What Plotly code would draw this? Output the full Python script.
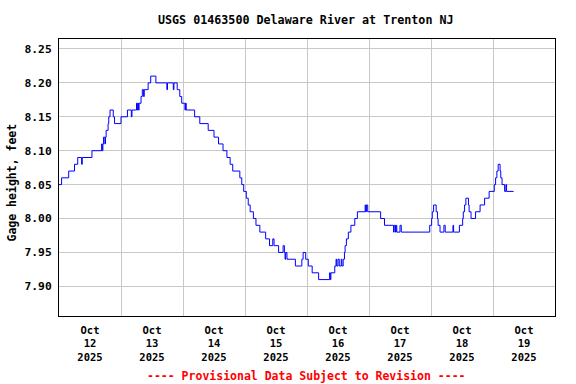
import pandas as pd
import plotly.graph_objects as go

# Change points of the gage-height record (hours after 2025-10-12 00:00, feet)
hours = [0.0, 1.0, 3.75, 6.0, 7.25, 8.75, 9.0, 12.75, 16.5, 16.75, 17.0, 17.25, 17.75, 18.0,
         18.25, 19.0, 19.25, 19.75, 21.0, 21.5, 24.0, 26.5, 28.0, 28.25, 30.0, 30.25, 30.5,
         30.75, 31.0, 31.75, 32.25, 32.75, 33.0, 34.5, 35.5, 37.5, 41.75, 42.0, 44.25, 44.5,
         45.75, 46.75, 47.5, 48.75, 49.0, 49.25, 52.5, 54.5, 57.75, 60.0, 61.75, 63.5, 65.0,
         66.25, 67.25, 70.0, 70.75, 71.5, 72.5, 73.25, 74.0, 75.25, 76.25, 77.75, 80.0, 81.5,
         82.75, 83.25, 85.0, 86.75, 87.25, 87.5, 87.75, 88.25, 91.5, 94.0, 94.5, 95.5, 96.5,
         98.0, 100.5, 104.75, 105.0, 105.25, 106.75, 107.25, 107.5, 108.0, 108.5, 109.25,
         109.5, 110.0, 110.5, 110.75, 111.25, 112.0, 113.0, 114.5, 115.5, 118.5, 118.75,
         119.0, 119.5, 124.5, 126.0, 129.5, 129.75, 130.25, 130.5, 130.75, 132.0, 132.5,
         143.5, 144.25, 144.5, 145.0, 146.0, 146.5, 146.75, 147.5, 149.0, 149.5, 152.5,
         152.75, 155.0, 156.25, 156.5, 157.0, 157.5, 158.5, 158.75, 159.5, 161.25, 163.0,
         164.75, 166.5, 168.5, 169.0, 169.5, 170.0, 170.75, 171.0, 171.5, 172.5, 173.0,
         173.25, 176.0]
gage = [8.05, 8.06, 8.07, 8.08, 8.09, 8.08, 8.09, 8.10, 8.11, 8.10, 8.11, 8.12, 8.11, 8.12,
        8.13, 8.14, 8.15, 8.16, 8.15, 8.14, 8.15, 8.16, 8.15, 8.16, 8.17, 8.16, 8.17,
        8.16, 8.17, 8.18, 8.19, 8.18, 8.19, 8.20, 8.21, 8.20, 8.19, 8.20, 8.19, 8.20,
        8.19, 8.18, 8.17, 8.16, 8.17, 8.16, 8.15, 8.14, 8.13, 8.12, 8.11, 8.10, 8.09,
        8.08, 8.07, 8.06, 8.05, 8.04, 8.03, 8.02, 8.01, 8.00, 7.99, 7.98, 7.97, 7.96,
        7.97, 7.96, 7.95, 7.96, 7.95, 7.94, 7.95, 7.94, 7.93, 7.94, 7.95, 7.94, 7.93,
        7.92, 7.91, 7.92, 7.91, 7.92, 7.93, 7.94, 7.93, 7.94, 7.93, 7.94,
        7.93, 7.94, 7.95, 7.96, 7.97, 7.98, 7.99, 8.00, 8.01, 8.02, 8.01,
        8.02, 8.01, 8.00, 7.99, 7.98, 7.99, 7.98, 7.99, 7.98, 7.99, 7.98,
        7.99, 8.00, 8.01, 8.02, 8.01, 8.00, 7.99, 7.98, 7.99, 7.98, 7.99,
        7.98, 7.99, 8.00, 8.01, 8.02, 8.03, 8.02, 8.01, 8.00, 8.01, 8.02,
        8.03, 8.04, 8.05, 8.06, 8.07, 8.08, 8.07, 8.06, 8.05, 8.04, 8.05,
        8.04, 8.04]

start = "2025-10-12 00:00"
x_range = ["2025-10-12 00:00", "2025-10-20 00:00"]
y_range = [7.8563, 8.2647]
y_ticks = [7.90, 7.95, 8.00, 8.05, 8.10, 8.15, 8.20, 8.25]
label_days = ["2025-10-12 12:00", "2025-10-13 12:00", "2025-10-14 12:00", "2025-10-15 12:00",
              "2025-10-16 12:00", "2025-10-17 12:00", "2025-10-18 12:00", "2025-10-19 12:00"]
label_text = ["Oct<br>12<br>2025", "Oct<br>13<br>2025", "Oct<br>14<br>2025", "Oct<br>15<br>2025",
              "Oct<br>16<br>2025", "Oct<br>17<br>2025", "Oct<br>18<br>2025", "Oct<br>19<br>2025"]

times = pd.Timestamp(start) + pd.to_timedelta(hours, unit="h")

FONT = "DejaVu Sans Mono"

fig = go.Figure()
fig.add_trace(go.Scatter(x=times, y=gage, mode="lines", line=dict(color="#0000ff", width=1, shape="hv"),
                         hoverinfo="skip", showlegend=False))

fig.update_layout(
    width=576, height=384,
    margin=dict(l=59, r=21, t=39, b=68, autoexpand=False),
    paper_bgcolor="white", plot_bgcolor="white",
    font=dict(family=FONT, size=11, color="black"),
    showlegend=False,
    xaxis=dict(
        range=x_range, type="date",
        tickvals=label_days, ticktext=label_text,
        showgrid=False, ticks="", zeroline=False,
        showline=True, linecolor="black", linewidth=1, mirror=True,
        tickfont=dict(family=FONT, size=10.5, color="black", weight="bold"),
        ticklabelstandoff=4,
        minor=dict(dtick=86400000, tick0="2025-10-12 00:00", showgrid=True,
                   gridcolor="#c8c8c8", gridwidth=1, ticks=""),
    ),
    yaxis=dict(
        range=y_range, tickvals=y_ticks, tickformat=".2f",
        showgrid=True, gridcolor="#c8c8c8", gridwidth=1, ticks="", zeroline=False,
        showline=True, linecolor="black", linewidth=1, mirror=True,
        tickfont=dict(family=FONT, size=11.3, color="black", weight="bold"),
        ticklabelstandoff=4,
    ),
    annotations=[
        dict(text="USGS 01463500 Delaware River at Trenton NJ", xref="paper", yref="paper",
             x=0.4985, y=1 + (39 - 20) / 277, xanchor="center", yanchor="middle", showarrow=False,
             font=dict(family=FONT, size=11.7, color="black", weight="bold")),
        dict(text="Gage height, feet", xref="paper", yref="paper", textangle=-90,
             x=(11.5 - 59) / 496, y=(316 - 183) / 277, xanchor="center", yanchor="middle",
             showarrow=False, font=dict(family=FONT, size=11.5, color="black", weight="bold")),
        dict(text="---- Provisional Data Subject to Revision ----", xref="paper", yref="paper",
             x=0.4985, y=-(376 - 316) / 277, xanchor="center", yanchor="middle", showarrow=False,
             font=dict(family=FONT, size=11.5, color="#ff0000", weight="bold")),
    ],
)

fig.write_html("out.html", config={"displayModeBar": False, "staticPlot": True},
               post_script="document.body.style.margin='0';document.body.style.padding='0';")
